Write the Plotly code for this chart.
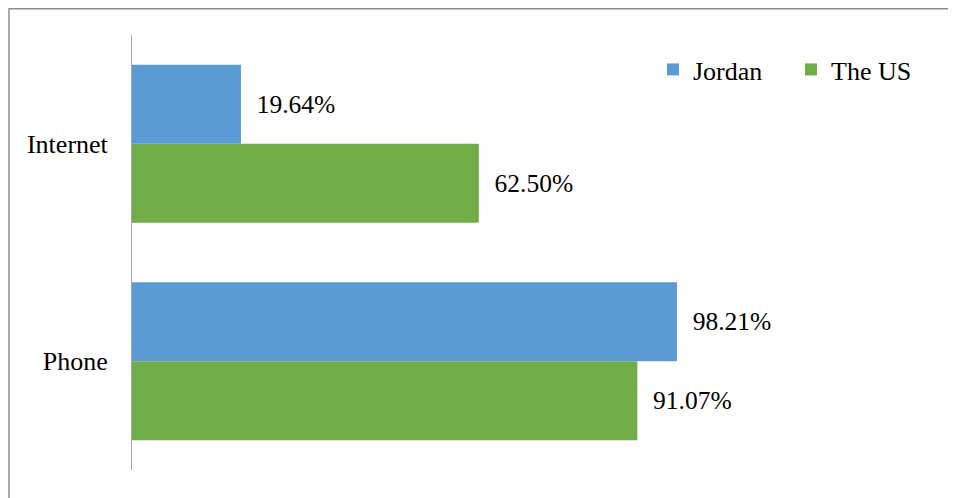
import plotly.graph_objects as go

categories = ["Phone", "Internet"]
jordan = [98.21, 19.64]
the_us = [91.07, 62.50]
series_names = ["Jordan", "The US"]

FONT = "Liberation Serif"
FS = 26

fig = go.Figure()
fig.add_trace(go.Bar(
    y=categories, x=the_us, name=series_names[1], orientation="h",
    marker=dict(color="#70AD47", line=dict(width=0)),
    texttemplate="  %{x:.2f}%", textposition="outside",
    textfont=dict(family=FONT, size=FS - 0.5, color="black"), cliponaxis=False,
    legendrank=2,
))
fig.add_trace(go.Bar(
    y=categories, x=jordan, name=series_names[0], orientation="h",
    marker=dict(color="#5B9BD5", line=dict(width=0)),
    texttemplate="  %{x:.2f}%", textposition="outside",
    textfont=dict(family=FONT, size=FS - 0.5, color="black"), cliponaxis=False,
    legendrank=1,
))

# figure is offset by 8px body margin in the page
W, H = 948, 490
L, T = 124, 27
pw, ph = 800, 435
R = W - L - pw
B = H - T - ph
xmax = pw / 5.549

def px_x(p):  # p in screen px
    return (p - 8 - L) / pw

def px_y(p):
    return (T + ph - (p - 8)) / ph

fig.update_layout(
    width=W, height=H,
    margin=dict(l=L, r=R, t=T, b=B),
    plot_bgcolor="white", paper_bgcolor="white",
    barmode="group", bargap=0.273, bargroupgap=0,
    font=dict(family=FONT, size=FS, color="black"),
    xaxis=dict(range=[0, xmax], showgrid=False, showticklabels=False,
               zeroline=False, showline=False, fixedrange=True),
    yaxis=dict(categoryorder="array", categoryarray=categories,
               showgrid=False, showline=True, linecolor="#A6A6A6", linewidth=1,
               ticks="", ticklabelstandoff=18,
               tickfont=dict(family=FONT, size=FS, color="black")),
    showlegend=True,
    legend=dict(orientation="h", x=px_x(653), y=px_y(46), xanchor="left", yanchor="top",
                font=dict(family=FONT, size=FS, color="black"),
                entrywidth=93, bgcolor="rgba(0,0,0,0)"),
    shapes=[
        dict(type="rect", xref="paper", yref="paper",
             x0=px_x(9), x1=px_x(955.5), y0=px_y(510), y1=px_y(8.75),
             line=dict(color="#8C8C8C", width=1.5), fillcolor="rgba(0,0,0,0)", layer="below"),
    ],
)

fig.write_html("out.html")
